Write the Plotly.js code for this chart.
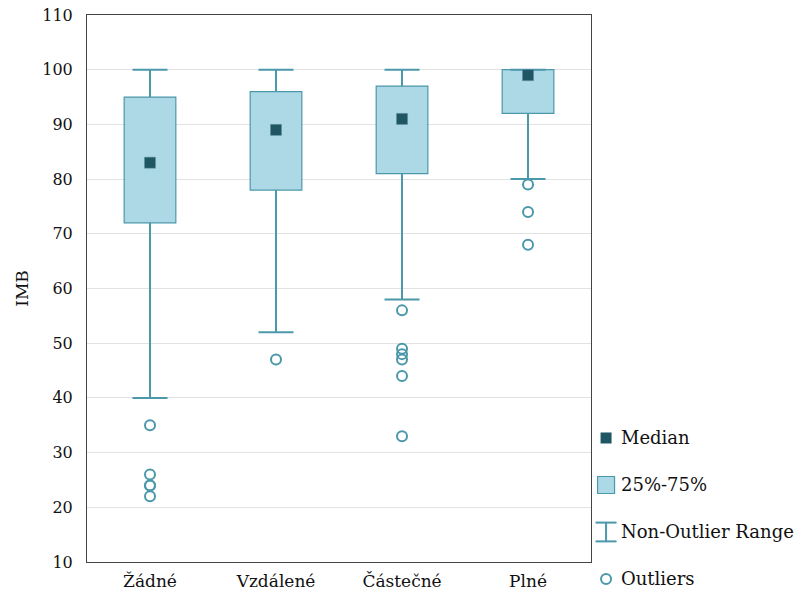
<!DOCTYPE html>
<html>
<head>
<meta charset="utf-8">
<script src="https://cdn.plot.ly/plotly-3.0.1.min.js"></script>
<style>html,body{margin:0;padding:0;background:#fff;}#chart{width:798px;height:592px;}</style>
</head>
<body>
<div id="chart"></div>
<script>
// ---- data ----
var categories = ["Žádné", "Vzdálené", "Částečné", "Plné"];
var medians = [83, 89, 91, 99];
var q1 = [72, 78, 81, 92];
var q3 = [95, 96, 97, 100];
var lowerFence = [40, 52, 58, 80];
var upperFence = [100, 100, 100, 100];
var outliers = [
  [35, 26, 24, 24, 22],
  [47],
  [56, 49, 48, 47, 44, 33],
  [79, 74, 68]
];
var legendLabels = ["Median", "25%-75%", "Non-Outlier Range", "Outliers"];

// ---- styling ----
var teal = "#4a98aa";
var fill = "#add8e6";
var dark = "#1f5663";
var fontFam = "DejaVu Serif, serif";

// boxes
var boxTrace = {
  type: "bar", x: categories,
  y: q3.map(function (v, i) { return v - q1[i]; }),
  base: q1, width: 0.41,
  marker: { color: fill, line: { color: teal, width: 1.2 } },
  hoverinfo: "skip", showlegend: false
};

// whisker lines
var wx = [], wy = [];
categories.forEach(function (c, i) {
  wx.push(c, c, null, c, c, null);
  wy.push(lowerFence[i], q1[i], null, q3[i], upperFence[i], null);
});
var whiskerTrace = {
  type: "scatter", mode: "lines", x: wx, y: wy,
  line: { color: teal, width: 2 }, hoverinfo: "skip", showlegend: false
};

// caps
var cx = [], cy = [];
categories.forEach(function (c, i) {
  cx.push(c, c); cy.push(lowerFence[i], upperFence[i]);
});
var capTrace = {
  type: "scatter", mode: "markers", x: cx, y: cy,
  marker: { symbol: "line-ew", size: 25, line: { color: teal, width: 2 } },
  hoverinfo: "skip", showlegend: false
};

// medians
var medianTrace = {
  type: "scatter", mode: "markers", x: categories, y: medians,
  marker: { symbol: "square", size: 11, color: dark, line: { color: "#5c8c96", width: 0.5 } },
  hoverinfo: "skip", showlegend: false
};

// outliers
var ox = [], oy = [];
outliers.forEach(function (arr, i) {
  arr.forEach(function (v) { ox.push(categories[i]); oy.push(v); });
});
var outlierTrace = {
  type: "scatter", mode: "markers", x: ox, y: oy,
  marker: { symbol: "circle-open", size: 10, color: teal, line: { color: teal, width: 2 } },
  hoverinfo: "skip", showlegend: false
};

// ---- custom legend (second axes) ----
var lgX = 0.06;
var rows = [0, -1, -2, -3];
var lgMedian = {
  type: "scatter", mode: "markers", x: [lgX], y: [rows[0]], xaxis: "x2", yaxis: "y2",
  marker: { symbol: "square", size: 11, color: dark }, cliponaxis: false,
  hoverinfo: "skip", showlegend: false
};
var lgBox = {
  type: "scatter", mode: "markers", x: [lgX], y: [rows[1]], xaxis: "x2", yaxis: "y2",
  marker: { symbol: "square", size: 17, color: fill, line: { color: teal, width: 1.2 } }, cliponaxis: false,
  hoverinfo: "skip", showlegend: false
};
var lgRangeLine = {
  type: "scatter", mode: "lines", x: [lgX, lgX], y: [rows[2] - 0.2, rows[2] + 0.2], xaxis: "x2", yaxis: "y2",
  line: { color: teal, width: 2 }, cliponaxis: false, hoverinfo: "skip", showlegend: false
};
var lgRangeCaps = {
  type: "scatter", mode: "markers", x: [lgX, lgX], y: [rows[2] - 0.2, rows[2] + 0.2], xaxis: "x2", yaxis: "y2",
  marker: { symbol: "line-ew", size: 15, line: { color: teal, width: 2 } }, cliponaxis: false,
  hoverinfo: "skip", showlegend: false
};
var lgOut = {
  type: "scatter", mode: "markers", x: [lgX], y: [rows[3]], xaxis: "x2", yaxis: "y2",
  marker: { symbol: "circle-open", size: 10, color: teal, line: { color: teal, width: 2 } }, cliponaxis: false,
  hoverinfo: "skip", showlegend: false
};

var annotations = legendLabels.map(function (t, i) {
  return {
    xref: "x2", yref: "y2", x: 0.125, y: rows[i], text: t, showarrow: false,
    xanchor: "left", yanchor: "middle", font: { family: fontFam, size: 18, color: "#111" }
  };
});

var layout = {
  width: 798, height: 592,
  margin: { l: 87, r: 2, t: 15, b: 10 },
  paper_bgcolor: "#fff", plot_bgcolor: "#fff",
  font: { family: fontFam, size: 16, color: "#111" },
  showlegend: false,
  xaxis: {
    domain: [0, 0.7109], type: "category", categoryarray: categories, range: [-0.5, 3.5],
    showline: true, mirror: true, linecolor: "#444", linewidth: 1, anchor: "y",
    showgrid: false, zeroline: false, ticks: "", fixedrange: true, ticklabelstandoff: 4,
    tickfont: { family: fontFam, size: 17, color: "#111" }
  },
  yaxis: {
    domain: [0.0353, 1],
    range: [10, 110], dtick: 10, tick0: 10,
    showline: true, mirror: true, linecolor: "#444", linewidth: 1,
    showgrid: true, gridcolor: "#e2e2e2", gridwidth: 1, zeroline: false, ticks: "",
    ticklabelstandoff: 10,
    title: { text: "IMB", font: { family: fontFam, size: 17, color: "#111" }, standoff: 9 },
    tickfont: { family: fontFam, size: 16, color: "#111" }
  },
  xaxis2: { domain: [0.715, 1], range: [0, 1], visible: false, fixedrange: true, anchor: "y2" },
  yaxis2: { domain: [0, 1], range: [-3.064, 9.0], visible: false, anchor: "x2", fixedrange: true },
  annotations: annotations
};

Plotly.newPlot("chart",
  [boxTrace, whiskerTrace, capTrace, medianTrace, outlierTrace,
   lgMedian, lgBox, lgRangeLine, lgRangeCaps, lgOut],
  layout, { staticPlot: true, displayModeBar: false });
</script>
</body>
</html>
